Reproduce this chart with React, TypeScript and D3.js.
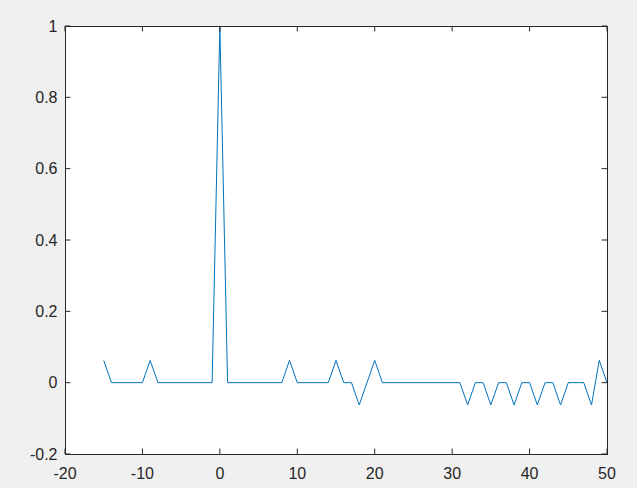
import React from "react";
import * as d3 from "d3";

const xValues: number[] = d3.range(-15, 51);
const yValues: number[] = [
  0.0625, 0, 0, 0, 0, 0, 0.0625, 0, 0, 0, 0, 0, 0, 0, // -15..-2
  0, 1, 0, 0, 0, 0, 0, 0, 0, 0, 0.0625, // -1..9
  0, 0, 0, 0, 0, 0.0625, 0, 0, -0.0625, 0, 0.0625, // 10..20
  0, 0, 0, 0, 0, 0, 0, 0, 0, 0, 0, // 21..31
  -0.0625, 0, 0, -0.0625, 0, 0, -0.0625, 0, 0, -0.0625, 0, 0, -0.0625, // 32..44
  0, 0, 0, -0.0625, 0.0625, 0, // 45..50
];
const xTicks: number[] = [-20, -10, 0, 10, 20, 30, 40, 50];
const yTicks: number[] = [-0.2, 0, 0.2, 0.4, 0.6, 0.8, 1];

const W = 637;
const H = 488;
const L = 65, R = 607, T = 26, B = 454;
const axisColor = "#262626";
const font = "'Liberation Sans', Arial, Helvetica, sans-serif";

export default function App() {
  const x = d3.scaleLinear().domain([-20, 50]).range([L, R]);
  const y = d3.scaleLinear().domain([-0.2, 1]).range([B, T]);
  const line = d3
    .line<number>()
    .x((_, i) => x(xValues[i]))
    .y((d) => y(d));
  const tk = 5.4;
  return (
    <div style={{ position: "fixed", left: 0, top: 0, width: W, height: H }}>
      <svg width={W} height={H} style={{ display: "block" }}>
        <rect x={0} y={0} width={W} height={H} fill="#f0f0f0" />
        <rect x={L} y={T} width={R - L} height={B - T} fill="#ffffff" />
        <path
          d={line(yValues) || ""}
          fill="none"
          stroke="#0072BD"
          strokeWidth={1}
          strokeLinejoin="miter"
        />
        {xTicks.map((t) => (
          <g key={"x" + t}>
            <line x1={x(t)} x2={x(t)} y1={B} y2={B - tk} stroke={axisColor} strokeWidth={1} />
            <line x1={x(t)} x2={x(t)} y1={T} y2={T + tk} stroke={axisColor} strokeWidth={1} />
            <text
              x={x(t)}
              y={479}
              textAnchor="middle"
              fontFamily={font}
              fontSize={16}
              fill={axisColor}
            >
              {t}
            </text>
          </g>
        ))}
        {yTicks.map((t) => (
          <g key={"y" + t}>
            <line x1={L} x2={L + tk} y1={y(t)} y2={y(t)} stroke={axisColor} strokeWidth={1} />
            <line x1={R} x2={R - tk} y1={y(t)} y2={y(t)} stroke={axisColor} strokeWidth={1} />
            <text
              x={57.5}
              y={y(t)}
              dy="0.36em"
              textAnchor="end"
              fontFamily={font}
              fontSize={16}
              fill={axisColor}
            >
              {t}
            </text>
          </g>
        ))}
        <rect
          x={L}
          y={T}
          width={R - L}
          height={B - T}
          fill="none"
          stroke={axisColor}
          strokeWidth={1}
          shapeRendering="crispEdges"
        />
      </svg>
    </div>
  );
}
